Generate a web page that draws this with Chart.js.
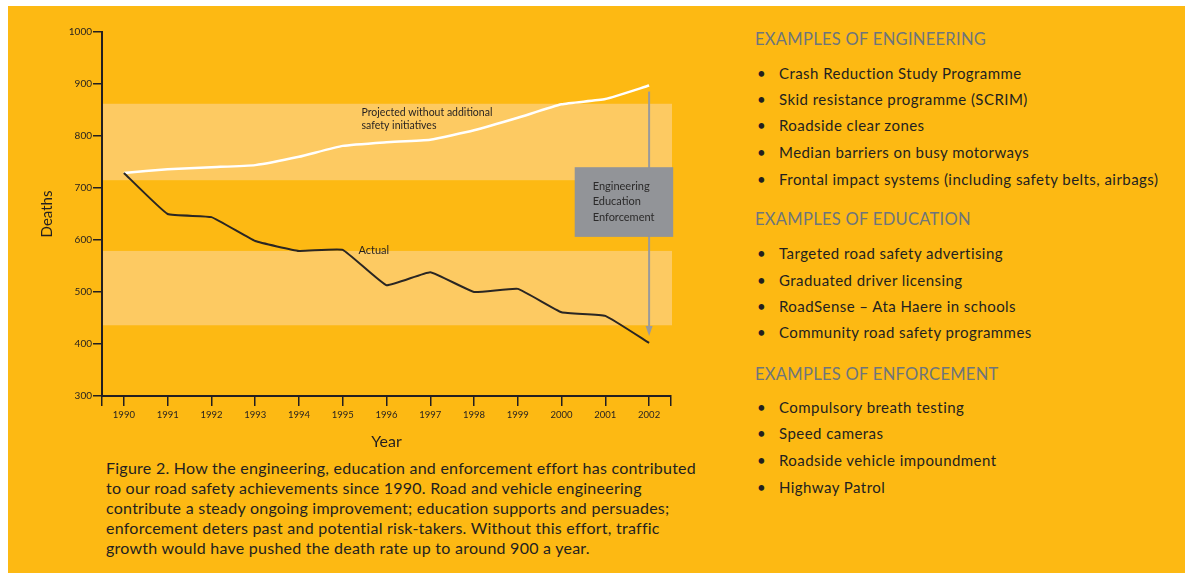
<!DOCTYPE html>
<html>
<head>
<meta charset="utf-8">
<script src="https://cdn.jsdelivr.net/npm/chart.js@4.4.0/dist/chart.umd.min.js"></script>
<style>
  html, body { margin: 0; padding: 0; background: #fff; }
  body { width: 1185px; height: 573px; position: relative; overflow: hidden; font-family: Lato, "Open Sans", sans-serif; }
  #panel { position: absolute; left: 8px; top: 6px; right: 0; bottom: 0; background: #FDB913; }
  #wrap { position: absolute; left: 0; top: 0; width: 720px; height: 455px; }
  .line { position: absolute; white-space: nowrap; color: #231f20; }
  .head { color: #6e757c; font-size: 16.5px; letter-spacing: 0.3px; }
  .item { font-size: 15px; letter-spacing: 0.45px; }
  .cap { font-size: 16px; letter-spacing: 0.25px; }
</style>
</head>
<body>
<div id="panel"></div>
<div id="wrap"><canvas id="myChart" width="720" height="455"></canvas></div>
<div id="side"></div>
<div id="caption"></div>
<script>
var years = [1990, 1991, 1992, 1993, 1994, 1995, 1996, 1997, 1998, 1999, 2000, 2001, 2002];
var actual = [729, 650, 644, 598, 579, 581, 513, 538, 500, 506, 461, 454, 402];
var projected = [729, 736, 740, 744, 760, 781, 788, 793, 811, 835, 861, 871, 897];
var bands = [[715, 862], [436, 579]];
var boxLines = ['Engineering', 'Education', 'Enforcement'];

var engineering = ['Crash Reduction Study Programme', 'Skid resistance programme (SCRIM)', 'Roadside clear zones',
    'Median barriers on busy motorways', 'Frontal impact systems (including safety belts, airbags)'];
var education = ['Targeted road safety advertising', 'Graduated driver licensing',
    'RoadSense \u2013 Ata Haere in  schools', 'Community road safety programmes'];
var enforcement = ['Compulsory breath testing', 'Speed cameras', 'Roadside vehicle impoundment', 'Highway Patrol'];
var captionLines = [
    'Figure 2. How the engineering, education and enforcement effort has contributed',
    'to our road safety achievements since 1990. Road and vehicle engineering',
    'contribute a steady ongoing improvement; education supports and persuades;',
    'enforcement deters past and potential risk-takers. Without this effort, traffic',
    'growth would have pushed the death rate up to around 900 a year.'
];

// text column on the right
function addLine(parent, cls, text, x, yc, h) {
    var d = document.createElement('div');
    d.className = 'line ' + cls;
    d.style.left = x + 'px';
    d.style.top = (yc - h / 2) + 'px';
    d.style.lineHeight = h + 'px';
    d.textContent = text;
    parent.appendChild(d);
}
var side = document.getElementById('side');
function addSection(title, items, headY, itemYs) {
    addLine(side, 'head', title, 755, headY, 20);
    items.forEach(function (t, i) {
        addLine(side, 'item', '\u2022', 757, itemYs[i], 18);
        addLine(side, 'item', t, 779, itemYs[i], 18);
    });
}
addSection('EXAMPLES OF ENGINEERING', engineering, 39, [73, 99, 125, 152, 179]);
addSection('EXAMPLES OF EDUCATION', education, 219, [253, 280, 306, 332]);
addSection('EXAMPLES OF ENFORCEMENT', enforcement, 374, [407, 433, 460, 487]);

var caption = document.getElementById('caption');
captionLines.forEach(function (t, i) {
    addLine(caption, 'cap', t, 106, 468 + i * 20, 20);
});

// bands, arrow, box and labels drawn on the chart
var extras = {
    id: 'extras',
    beforeDatasetsDraw: function (chart) {
        var ctx = chart.ctx, x = chart.scales.x, y = chart.scales.y;
        ctx.save();
        ctx.fillStyle = '#FDCA62';
        bands.forEach(function (b) {
            var top = y.getPixelForValue(b[1]), bot = y.getPixelForValue(b[0]);
            ctx.fillRect(chart.chartArea.left + 1, top, chart.chartArea.right - chart.chartArea.left, bot - top);
        });
        ctx.restore();
    },
    afterDatasetsDraw: function (chart) {
        var ctx = chart.ctx, x = chart.scales.x, y = chart.scales.y;
        var last = years.length - 1;
        var ax = x.getPixelForValue(years[last]);
        var y1 = y.getPixelForValue(projected[last]) + 6;
        var y2 = y.getPixelForValue(actual[last]) - 7;
        ctx.save();
        ctx.strokeStyle = '#9a9a9c';
        ctx.fillStyle = '#9a9a9c';
        ctx.lineWidth = 2;
        ctx.beginPath();
        ctx.moveTo(ax, y1);
        ctx.lineTo(ax, y2 - 8);
        ctx.stroke();
        ctx.beginPath();
        ctx.moveTo(ax - 3.5, y2 - 10);
        ctx.lineTo(ax + 3.5, y2 - 10);
        ctx.lineTo(ax, y2);
        ctx.closePath();
        ctx.fill();

        // grey box
        var bx1 = x.getPixelForValue(2000.3), bx2 = x.getPixelForValue(2002.55);
        var by1 = y.getPixelForValue(740), by2 = y.getPixelForValue(606);
        ctx.fillStyle = '#929498';
        ctx.fillRect(bx1, by1, bx2 - bx1, by2 - by1);
        ctx.fillStyle = '#2b2a2a';
        ctx.font = '11px Lato, "Open Sans", sans-serif';
        ctx.textBaseline = 'middle';
        boxLines.forEach(function (t, i) {
            ctx.fillText(t, bx1 + 18, by1 + 19 + i * 15.5);
        });

        ctx.font = '10.5px Lato, "Open Sans", sans-serif';
        ctx.fillStyle = '#231f20';
        var px = x.getPixelForValue(1995.43), py = y.getPixelForValue(845);
        ctx.fillText('Projected without additional', px, py);
        ctx.fillText('safety initiatives', px, py + 13);
        ctx.font = '11px Lato, "Open Sans", sans-serif';
        ctx.fillText('Actual', x.getPixelForValue(1995.36), y.getPixelForValue(579));
        ctx.restore();
    }
};

var ink = '#231f20';
var ctx = document.getElementById('myChart').getContext('2d');
var myChart = new Chart(ctx, {
    type: 'line',
    data: {
        datasets: [{
            label: 'Actual',
            data: years.map(function (yr, i) { return {x: yr, y: actual[i]}; }),
            borderColor: '#2a2623',
            borderWidth: 2,
            pointRadius: 0,
            tension: 0.1
        }, {
            label: 'Projected without additional safety initiatives',
            data: years.map(function (yr, i) { return {x: yr, y: projected[i]}; }),
            borderColor: '#ffffff',
            borderWidth: 2.5,
            pointRadius: 0,
            tension: 0.15
        }]
    },
    options: {
        responsive: false,
        animation: false,
        layout: {padding: {left: 0, top: 32, right: 49, bottom: 0}},
        plugins: {legend: {display: false}, tooltip: {enabled: false}},
        scales: {
            x: {
                type: 'linear',
                min: 1989.5,
                max: 2002.5,
                afterBuildTicks: function (scale) {
                    var t = [{value: 1989.5}];
                    years.forEach(function (yr) { t.push({value: yr}); });
                    t.push({value: 2002.5});
                    scale.ticks = t;
                },
                afterFit: function (scale) { scale.height = 59; },
                border: {display: true, color: ink, width: 2},
                grid: {drawOnChartArea: false, color: ink, lineWidth: 1.5, tickLength: 10},
                ticks: {
                    autoSkip: false,
                    maxRotation: 0,
                    padding: 3,
                    color: ink,
                    font: {size: 9.5, family: 'Lato'},
                    callback: function (v) { return Number.isInteger(v) ? String(v) : ''; }
                },
                title: {display: true, text: 'Year', color: ink, font: {size: 16, family: 'Lato'}, padding: {bottom: 4}}
            },
            y: {
                min: 300,
                max: 1000,
                afterFit: function (scale) { scale.width = 102; },
                border: {display: true, color: ink, width: 2},
                grid: {drawOnChartArea: false, color: ink, lineWidth: 1.5, tickLength: 9},
                ticks: {
                    stepSize: 100, padding: 1, color: ink, font: {size: 10, family: 'Lato'},
                    callback: function (v) { return String(v); }
                },
                title: {display: true, text: 'Deaths', color: ink, font: {size: 15, family: 'Lato'}, padding: {top: 38}}
            }
        }
    },
    plugins: [extras]
});
</script>
</body>
</html>
